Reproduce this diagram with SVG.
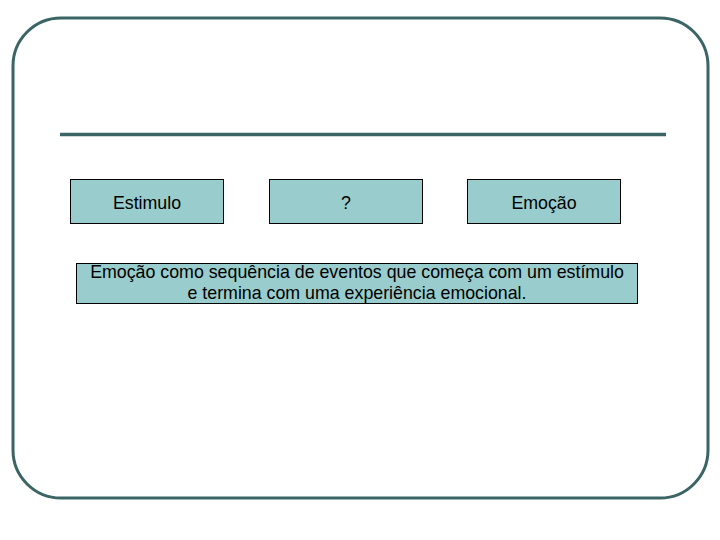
<svg xmlns="http://www.w3.org/2000/svg" width="720" height="540" viewBox="0 0 720 540">
<style>
.frame{fill:none;stroke:#3b6565;stroke-width:3}
.box{fill:#99cccc;stroke:#000;stroke-width:1}
.t{font-family:"Liberation Sans",Arial,sans-serif;font-size:17.8px;fill:#000;text-anchor:middle}
</style>
<rect width="720" height="540" fill="#fff"/>
<rect class="frame" x="13" y="18" width="695" height="480" rx="48" ry="48"/>
<line x1="60" y1="134.5" x2="666" y2="134.5" stroke="#3b6565" stroke-width="3.5"/>
<g id="estimulo"><rect class="box" x="70.5" y="179.5" width="153" height="44"/><text class="t" x="147" y="208.5">Estimulo</text></g>
<g id="interrogacao"><rect class="box" x="269.5" y="179.5" width="153" height="44"/><text class="t" x="346" y="208.5">?</text></g>
<g id="emocao"><rect class="box" x="467.5" y="179.5" width="153" height="44"/><text class="t" x="544" y="208.5">Emoção</text></g>
<g id="descricao"><rect class="box" x="76.5" y="263.5" width="561" height="40"/><text class="t" x="357" y="277.5">Emoção como sequência de eventos que começa com um estímulo</text><text class="t" x="357" y="299">e termina com uma experiência emocional.</text></g>
<g id="connectors"/>
</svg>
